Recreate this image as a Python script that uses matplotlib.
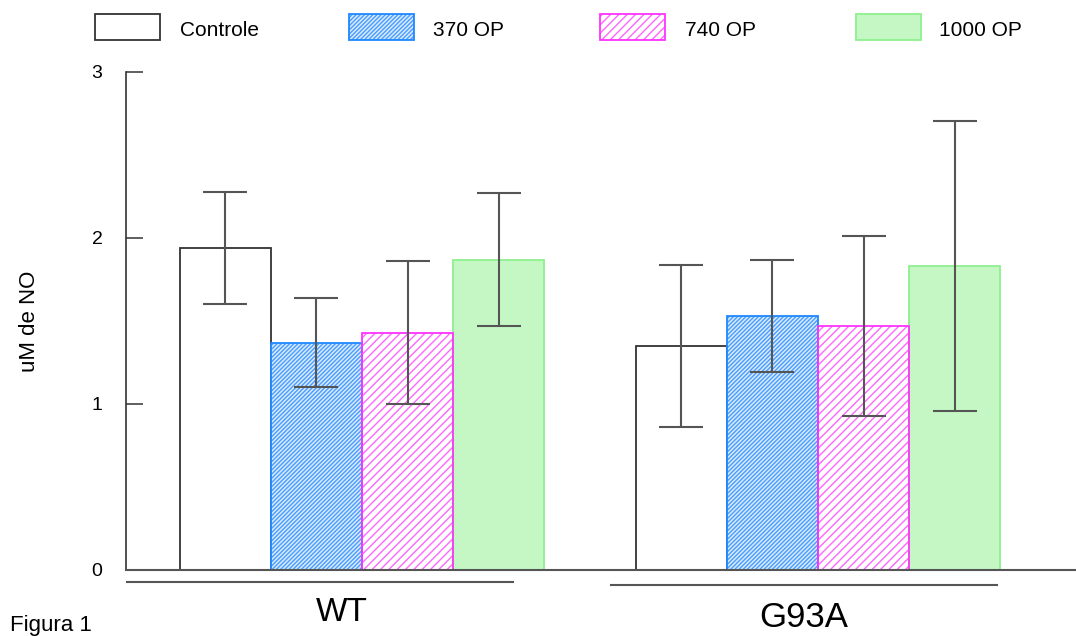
import matplotlib
matplotlib.use("Agg")
import matplotlib.pyplot as plt
from matplotlib.patches import Rectangle
from matplotlib.lines import Line2D
import matplotlib.transforms as mtransforms
import numpy as np

plt.rcParams['font.family'] = ['Liberation Sans', 'DejaVu Sans']
plt.rcParams['hatch.linewidth'] = 1.0

groups = ["WT", "G93A"]
series = ["Controle", "370 OP", "740 OP", "1000 OP"]
means = {
    "Controle": [1.94, 1.35],
    "370 OP":   [1.37, 1.53],
    "740 OP":   [1.43, 1.47],
    "1000 OP":  [1.87, 1.83],
}
errors = {
    "Controle": [0.34, 0.49],
    "370 OP":   [0.27, 0.34],
    "740 OP":   [0.43, 0.54],
    "1000 OP":  [0.40, 0.875],
}
yticks = [0, 1, 2, 3]

styles = {
    "Controle": dict(facecolor="white", hatchcolor=None, edgecolor="#333333", hatch=None, lw=1.3),
    "370 OP":   dict(facecolor="#d8eafe", hatchcolor="#4a9dff", edgecolor="#1e88ff", hatch="////////", lw=1.3),
    "740 OP":   dict(facecolor="white", hatchcolor="#ff66ff", edgecolor="#ff33ff", hatch="////", lw=1.3),
    "1000 OP":  dict(facecolor="#c4f7c4", hatchcolor=None, edgecolor="#8ef08e", hatch=None, lw=1.3),
}

W, H = 1076, 636
fig = plt.figure(figsize=(W / 100, H / 100), dpi=100)

def fx(px):
    return px / W

def fy(py):
    return 1 - py / H

ax = fig.add_axes([fx(126), fy(570), fx(1076) - fx(126), fy(72) - fy(570)])

bw = 0.2
x = np.arange(len(groups))
for j, s in enumerate(series):
    st = styles[s]
    pos = x + (j - 1.5) * bw
    if st["hatch"]:
        ax.bar(pos, means[s], width=bw, facecolor=st["facecolor"], edgecolor=st["hatchcolor"],
               hatch=st["hatch"], linewidth=0, zorder=2)
        ax.bar(pos, means[s], width=bw, facecolor="none", edgecolor=st["edgecolor"],
               linewidth=st["lw"], zorder=2.1)
    else:
        ax.bar(pos, means[s], width=bw, facecolor=st["facecolor"], edgecolor=st["edgecolor"],
               linewidth=st["lw"], zorder=2)
    ax.errorbar(pos, means[s], yerr=errors[s], fmt='none', ecolor='#555555',
                elinewidth=1.5, capsize=16, capthick=1.5, zorder=3)

ax.set_ylim(0, 3)
ax.set_xlim(-0.5175, 1.566)
ax.set_yticks(yticks)
ax.set_yticklabels([str(t) for t in yticks], fontsize=14)
ax.tick_params(axis='y', direction='in', length=12, width=1.2, color='#444444', pad=17)
ax.set_xticks([])
for sp in ["top", "right"]:
    ax.spines[sp].set_visible(False)
ax.spines["left"].set_color("#333333")
ax.spines["left"].set_linewidth(1.2)
ax.spines["bottom"].set_color("#555555")
ax.spines["bottom"].set_linewidth(1.5)

ax.set_ylabel("uM de NO", fontsize=16)
ax.yaxis.set_label_coords(-0.091, 0.5)

# group underlines and labels
trans = mtransforms.blended_transform_factory(ax.transData, ax.transAxes)
group_line = [(-0.515, 0.331, -0.024), (0.546, 1.393, -0.030)]
for (x0, x1, yy) in group_line:
    ax.add_line(Line2D([x0, x1], [yy, yy], transform=trans, color='#555555', lw=1.5, clip_on=False))
label_pos = [(-0.044, -0.085), (0.969, -0.095)]
label_size = [24, 25]
for g, (lx, ly), fs in zip(groups, label_pos, label_size):
    ax.text(lx, ly, g, transform=trans, ha='center', va='center', fontsize=fs)

fig.text(fx(10), fy(631), "Figura 1", fontsize=16, ha='left', va='baseline')

# legend
legend_boxes = [95, 349, 600, 856]
legend_text_x = [180, 433, 685, 939]
for s, bx, tx in zip(series, legend_boxes, legend_text_x):
    st = styles[s]
    if st["hatch"]:
        r = Rectangle((fx(bx), fy(40)), fx(65), fy(14) - fy(40), transform=fig.transFigure,
                      facecolor=st["facecolor"], edgecolor=st["hatchcolor"], hatch=st["hatch"],
                      linewidth=0)
        fig.patches.append(r)
    r = Rectangle((fx(bx), fy(40)), fx(65), fy(14) - fy(40), transform=fig.transFigure,
                  facecolor="none" if st["hatch"] else st["facecolor"], edgecolor=st["edgecolor"],
                  linewidth=st["lw"])
    fig.patches.append(r)
    fig.text(fx(tx), fy(31), s, fontsize=15, ha='left', va='center')

fig.savefig("out.png", dpi=100)
